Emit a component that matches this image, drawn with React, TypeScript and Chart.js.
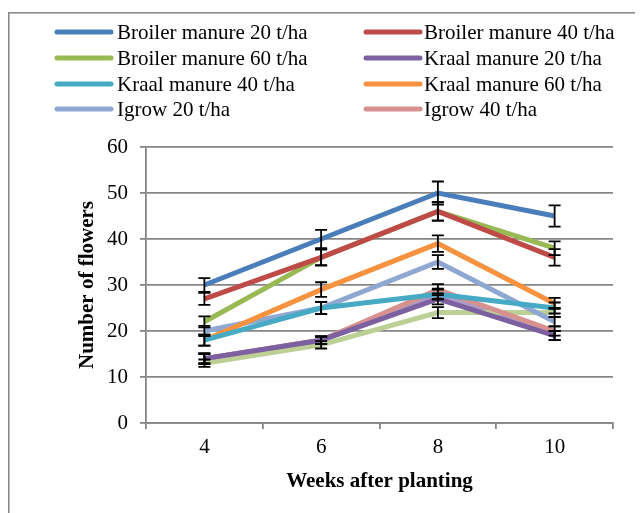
import React, { useEffect, useRef } from "react";
import { Chart, registerables } from "chart.js";

Chart.register(...registerables);

const weeks = ["4", "6", "8", "10"];

const broiler20 = [30, 40, 50, 45];
const broiler40 = [27, 36, 46, 36];
const broiler60 = [22, 36, 46, 38];
const kraal20 = [14, 18, 27, 19];
const kraal40 = [18, 25, 28, 25];
const kraal60 = [18, 29, 39, 26];
const igrow20 = [20, 25, 35, 22];
const igrow40 = [14, 18, 29, 20];
const igrow60 = [13, 17, 24, 24];
const control = [14, 18, 28, 19];

const errBroiler20 = [1.5, 2, 2.5, 2.3];
const errBroiler40 = [1.3, 1.8, 2, 1.8];
const errBroiler60 = [1.2, 1.7, 2, 1.5];
const errKraal20 = [1.1, 0.8, 1.2, 1];
const errKraal40 = [1.2, 1.3, 1.2, 1.2];
const errKraal60 = [1.2, 1.6, 1.8, 1.2];
const errIgrow20 = [1.1, 1.3, 1.5, 1];
const errIgrow40 = [1, 0.8, 1.2, 1];
const errIgrow60 = [0.8, 0.8, 1.2, 1];
const errControl = [1.2, 0.8, 1, 1];

const seriesNames = [
  "Broiler manure 20 t/ha",
  "Broiler manure 40 t/ha",
  "Broiler manure 60 t/ha",
  "Kraal manure 20 t/ha",
  "Kraal manure 40 t/ha",
  "Kraal manure 60 t/ha",
  "Igrow 20 t/ha",
  "Igrow 40 t/ha",
  "Igrow 60 t/ha",
  "Control",
];
const seriesValues = [broiler20, broiler40, broiler60, kraal20, kraal40, kraal60, igrow20, igrow40, igrow60, control];
const seriesErrors = [errBroiler20, errBroiler40, errBroiler60, errKraal20, errKraal40, errKraal60, errIgrow20, errIgrow40, errIgrow60, errControl];
const seriesColors = ["#4A7EBB", "#BE4B48", "#98B954", "#7D60A0", "#46AAC5", "#F69240", "#8FA8D2", "#D7918F", "#BCD096", "#AD9BC6"];
const legendCount = 8;

const FONT = "'Liberation Serif', 'Times New Roman', serif";
const FS = 21;
const W = 635;
const H = 505;

const framePlugin = {
  id: "frame",
  beforeDraw(chart: any) {
    const ctx = chart.ctx;
    ctx.save();
    ctx.fillStyle = "#ffffff";
    ctx.fillRect(0, 0, chart.width, chart.height);
    ctx.strokeStyle = "#8a8a8a";
    ctx.lineWidth = 1.6;
    ctx.strokeRect(0.8, 4.8, chart.width - 1.6, chart.height + 20);
    ctx.restore();
  },
};

const legendPlugin = {
  id: "customLegend",
  afterDraw(chart: any) {
    const ctx = chart.ctx;
    const cols = [
      { lx: 49, tx: 109 },
      { lx: 358, tx: 416 },
    ];
    const rows = [24, 50, 76, 101];
    ctx.save();
    ctx.font = `${FS}px ${FONT}`;
    ctx.textBaseline = "middle";
    ctx.textAlign = "left";
    chart.data.datasets.slice(0, legendCount).forEach((ds: any, i: number) => {
      const c = cols[i % 2];
      const y = rows[Math.floor(i / 2)];
      ctx.strokeStyle = ds.borderColor;
      ctx.lineWidth = 5;
      ctx.lineCap = "round";
      ctx.beginPath();
      ctx.moveTo(c.lx, y);
      ctx.lineTo(c.lx + 54, y);
      ctx.stroke();
      ctx.fillStyle = "#000";
      ctx.fillText(ds.label, c.tx, y + 1);
    });
    ctx.restore();
  },
};

const errorBarPlugin = {
  id: "errorBars",
  afterDatasetsDraw(chart: any) {
    const ctx = chart.ctx;
    const yScale = chart.scales.y;
    ctx.save();
    ctx.strokeStyle = "#000";
    ctx.lineWidth = 1.8;
    chart.data.datasets.forEach((ds: any, di: number) => {
      const meta = chart.getDatasetMeta(di);
      meta.data.forEach((pt: any, i: number) => {
        const v = ds.data[i];
        const e = ds.errors[i];
        const x = pt.x;
        const yTop = yScale.getPixelForValue(v + e);
        const yBot = yScale.getPixelForValue(v - e);
        ctx.beginPath();
        ctx.moveTo(x, yTop);
        ctx.lineTo(x, yBot);
        ctx.moveTo(x - 6, yTop);
        ctx.lineTo(x + 6, yTop);
        ctx.moveTo(x - 6, yBot);
        ctx.lineTo(x + 6, yBot);
        ctx.stroke();
      });
    });
    ctx.restore();
  },
};

export default function App() {
  const ref = useRef<HTMLCanvasElement | null>(null);

  useEffect(() => {
    if (!ref.current) return;
    const chart = new Chart(ref.current, {
      type: "line",
      data: {
        labels: weeks,
        datasets: seriesNames.map((name, i) => ({
          label: name,
          data: seriesValues[i],
          errors: seriesErrors[i],
          borderColor: seriesColors[i],
          backgroundColor: seriesColors[i],
          borderWidth: 5,
          pointRadius: 0,
          tension: 0,
          fill: false,
        })) as any,
      },
      options: {
        responsive: false,
        animation: false,
        devicePixelRatio: 1,
        layout: { padding: { top: 139, right: 30, bottom: 0, left: 0 } },
        plugins: {
          legend: { display: false },
          tooltip: { enabled: false },
        },
        scales: {
          x: {
            type: "category",
            offset: true,
            afterFit: (s: any) => {
              s.height = 90;
            },
            grid: {
              display: true,
              drawOnChartArea: false,
              drawTicks: true,
              tickLength: 6,
              offset: true,
              color: "#868686",
              lineWidth: 1.8,
            },
            border: { display: true, color: "#868686", width: 1.8 },
            ticks: {
              color: "#000",
              padding: 6,
              font: { family: FONT, size: FS },
              maxRotation: 0,
            },
            title: {
              display: true,
              text: "Weeks after planting",
              color: "#000",
              font: { family: FONT, size: FS, weight: "bold" },
              padding: { top: 0, bottom: 19 },
            },
          },
          y: {
            min: 0,
            max: 60,
            afterFit: (s: any) => {
              s.width = 138;
            },
            ticks: {
              stepSize: 10,
              color: "#000",
              padding: 12,
              font: { family: FONT, size: FS },
            },
            grid: {
              color: "#868686",
              lineWidth: 1.8,
              drawTicks: true,
              tickLength: 6,
            },
            border: { display: true, color: "#868686", width: 1.8 },
            title: {
              display: true,
              text: "Number of flowers",
              color: "#000",
              font: { family: FONT, size: FS, weight: "bold" },
              padding: { top: 67, bottom: 0 },
            },
          },
        },
      } as any,
      plugins: [framePlugin, legendPlugin, errorBarPlugin],
    });
    return () => chart.destroy();
  }, []);

  return (
    <canvas
      ref={ref}
      width={W}
      height={H}
      style={{ display: "block", width: `${W}px`, height: `${H}px` }}
    />
  );
}
